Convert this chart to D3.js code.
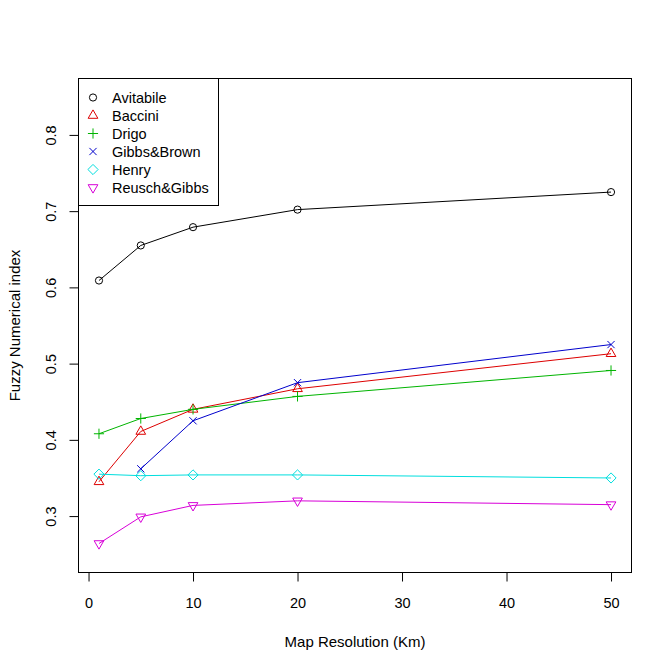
<!DOCTYPE html>
<html>
<head>
<meta charset="utf-8">
<script src="https://cdn.jsdelivr.net/npm/d3@7"></script>
<style>
  body { margin: 0; background: #fff; }
  text { font-family: "Liberation Sans", Arial, sans-serif; fill: #000; }
</style>
</head>
<body>
<svg id="chart" width="672" height="671"></svg>
<script>
// values
const resolution = [1, 5, 10, 20, 50];
const seriesNames = ['Avitabile', 'Baccini', 'Drigo', 'Gibbs&Brown', 'Henry', 'Reusch&Gibbs'];
const avitabile = [0.609, 0.655, 0.679, 0.702, 0.725];
const baccini = [0.345, 0.411, 0.440, 0.467, 0.513];
const drigo = [0.408, 0.428, 0.440, 0.457, 0.491];
const gibbsBrown = [null, 0.362, 0.425, 0.475, 0.525];
const henry = [0.355, 0.353, 0.354, 0.354, 0.350];
const reuschGibbs = [0.264, 0.299, 0.314, 0.320, 0.315];
const xTicks = [0, 10, 20, 30, 40, 50];
const yTicks = [0.3, 0.4, 0.5, 0.6, 0.7, 0.8];

const colors = ['#000000', '#dd0000', '#00b400', '#0000cc', '#00dede', '#d800d8'];
const shapes = ['circle', 'triUp', 'plus', 'cross', 'diamond', 'triDown'];
const allSeries = [avitabile, baccini, drigo, gibbsBrown, henry, reuschGibbs];

const box = { left: 78.5, right: 631.5, top: 78.5, bottom: 572.5 };
const fontSize = '14.5px';

// R style 4% extension of the limits
const ext = (lo, hi) => [lo - (hi - lo) * 0.04, hi + (hi - lo) * 0.04];

const x = d3.scaleLinear().domain(ext(1, 50)).range([box.left, box.right]);
const y = d3.scaleLinear().domain(ext(0.25, 0.85)).range([box.bottom, box.top]);

const svg = d3.select('#chart');
svg.append('rect').attr('width', 672).attr('height', 671).attr('fill', '#fff');

// point symbols, sized like R pch at cex 1
const xc = 3.6;
function symbolPath(shape) {
  const r = 1.555 * xc, hw = 1.347 * xc, yc = 0.778 * xc, s = xc * Math.SQRT2;
  switch (shape) {
    case 'circle':
      return `M${xc},0A${xc},${xc} 0 1,1 ${-xc},0A${xc},${xc} 0 1,1 ${xc},0Z`;
    case 'triUp':
      return `M0,${-r}L${hw},${yc}L${-hw},${yc}Z`;
    case 'triDown':
      return `M0,${r}L${hw},${-yc}L${-hw},${-yc}Z`;
    case 'plus':
      return `M${-s},0L${s},0M0,${-s}L0,${s}`;
    case 'cross':
      return `M${-xc},${-xc}L${xc},${xc}M${-xc},${xc}L${xc},${-xc}`;
    case 'diamond':
      return `M0,${-s}L${s},0L0,${s}L${-s},0Z`;
  }
}

// lines and points
const line = d3.line()
  .defined(d => d.v !== null)
  .x(d => x(d.r))
  .y(d => y(d.v));

allSeries.forEach((vals, i) => {
  const pts = resolution.map((r, j) => ({ r: r, v: vals[j] }));
  const g = svg.append('g');
  g.append('path')
    .datum(pts)
    .attr('d', line)
    .attr('fill', 'none')
    .attr('stroke', colors[i])
    .attr('stroke-width', 1);
  g.selectAll('path.pt')
    .data(pts.filter(d => d.v !== null))
    .join('path')
      .attr('class', 'pt')
      .attr('transform', d => `translate(${x(d.r)},${y(d.v)})`)
      .attr('d', symbolPath(shapes[i]))
      .attr('fill', 'none')
      .attr('stroke', colors[i])
      .attr('stroke-width', 1);
});

// axes
const xAxis = svg.append('g')
  .attr('transform', `translate(0,${box.bottom})`)
  .call(d3.axisBottom(x).tickValues(xTicks).tickSize(9).tickPadding(16).tickFormat(d3.format('d')));
xAxis.select('.domain').remove();
xAxis.selectAll('text').style('font-size', fontSize);

const yAxis = svg.append('g')
  .attr('transform', `translate(${box.left},0)`)
  .call(d3.axisLeft(y).tickValues(yTicks).tickSize(9).tickFormat(d3.format('.1f')));
yAxis.select('.domain').remove();
yAxis.selectAll('text')
  .style('font-size', fontSize)
  .attr('x', 0).attr('dy', 0)
  .attr('text-anchor', 'middle')
  .attr('transform', 'translate(-28,0) rotate(-90)')
  .attr('y', 5);

// plot box
svg.append('rect')
  .attr('x', box.left).attr('y', box.top)
  .attr('width', box.right - box.left).attr('height', box.bottom - box.top)
  .attr('fill', 'none').attr('stroke', '#000').attr('stroke-width', 1);

// axis titles
svg.append('text')
  .attr('x', (box.left + box.right) / 2).attr('y', 647)
  .attr('text-anchor', 'middle').style('font-size', '15px')
  .text('Map Resolution (Km)');
svg.append('text')
  .attr('transform', `translate(20,${(box.top + box.bottom) / 2}) rotate(-90)`)
  .attr('text-anchor', 'middle').style('font-size', '15px')
  .text('Fuzzy Numerical index');

// legend
const legend = svg.append('g');
legend.append('rect')
  .attr('x', box.left).attr('y', box.top)
  .attr('width', 140).attr('height', 127)
  .attr('fill', '#fff').attr('stroke', '#000').attr('stroke-width', 1);
const rows = legend.selectAll('g.row')
  .data(seriesNames)
  .join('g')
    .attr('class', 'row')
    .attr('transform', (d, i) => `translate(0,${97.5 + i * 18})`);
rows.append('path')
  .attr('transform', 'translate(93,0)')
  .attr('d', (d, i) => symbolPath(shapes[i]))
  .attr('fill', 'none')
  .attr('stroke', (d, i) => colors[i]);
rows.append('text')
  .attr('x', 112).attr('y', 5)
  .style('font-size', fontSize)
  .text(d => d);
</script>
</body>
</html>
